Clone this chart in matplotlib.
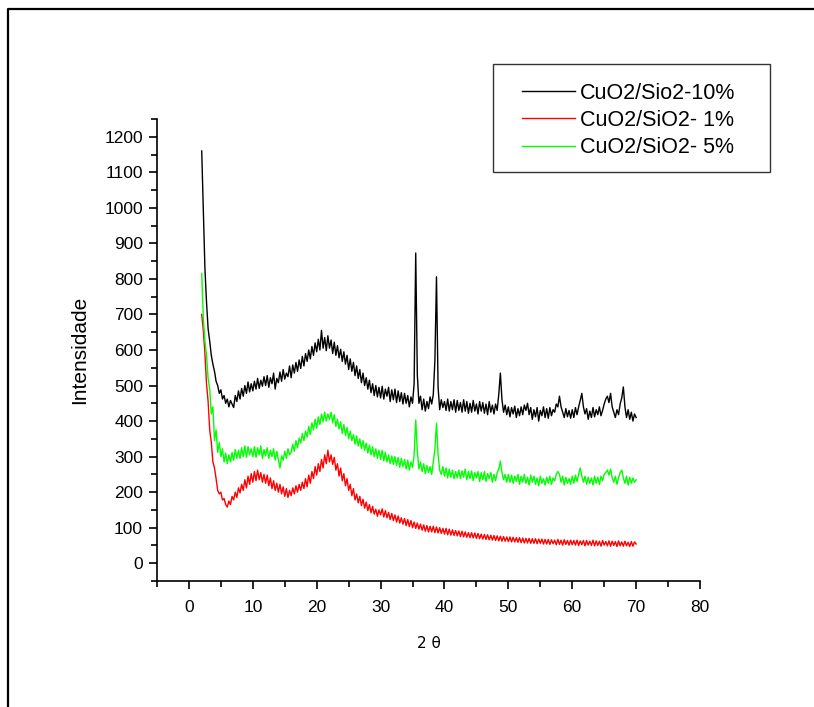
import numpy as np
import matplotlib.pyplot as plt
from matplotlib.lines import Line2D
from matplotlib.patches import Rectangle
from matplotlib.ticker import MultipleLocator

plt.rcParams['font.family'] = ['Liberation Sans', 'DejaVu Sans']

# 2-theta grid: 2.0 .. 70.0 in steps of 0.25 (rows of 8 values = 2 degrees)
two_theta = np.arange(2.0, 70.001, 0.25)

cuo_10 = [
    1160, 1000, 830, 735, 660, 625, 585, 560,
    540, 512, 500, 478, 488, 462, 472, 450,
    462, 440, 458, 448, 438, 472, 455, 485,
    462, 492, 470, 500, 478, 510, 482, 505,
    485, 512, 490, 520, 492, 515, 498, 525,
    500, 528, 495, 522, 505, 535, 490, 520,
    508, 538, 512, 545, 518, 535, 525, 555,
    522, 558, 535, 565, 540, 572, 548, 582,
    555, 590, 568, 600, 575, 610, 585, 620,
    595, 630, 600, 655, 605, 635, 598, 640,
    605, 628, 590, 622, 585, 612, 578, 602,
    568, 595, 560, 585, 545, 575, 540, 565,
    528, 555, 520, 545, 508, 535, 500, 522,
    490, 515, 480, 505, 472, 500, 468, 495,
    465, 498, 462, 490, 470, 495, 455, 488,
    460, 490, 452, 485, 455, 480, 448, 478,
    450, 472, 440, 468, 450, 505, 873, 530,
    450, 470, 432, 462, 428, 455, 435, 468,
    448, 475, 570, 806, 495, 432, 460, 438,
    455, 430, 462, 428, 455, 432, 460, 425,
    458, 430, 452, 425, 460, 428, 455, 422,
    450, 425, 458, 428, 448, 420, 455, 428,
    452, 422, 448, 418, 455, 425, 445, 420,
    448, 430, 475, 535, 460, 425, 445, 418,
    440, 412, 438, 420, 442, 410, 435, 415,
    440, 418, 445, 430, 450, 418, 438, 405,
    432, 412, 438, 400, 430, 415, 440, 410,
    435, 408, 438, 415, 432, 425, 448, 440,
    470, 440, 425, 410, 435, 412, 430, 408,
    432, 410, 438, 418, 440, 458, 478, 440,
    420, 435, 405, 428, 410, 438, 412, 432,
    418, 440, 415, 430, 448, 462, 470, 452,
    478, 440, 425, 410, 432, 418, 448, 465,
    496, 440, 410, 432, 405, 425, 400, 420,
    410,
]

cuo_1 = [
    700, 655, 590, 505, 455, 375, 340, 285,
    268, 238, 205, 195, 200, 178, 182, 165,
    158, 175, 165, 188, 178, 200, 185, 212,
    198, 222, 205, 235, 212, 245, 222, 252,
    228, 258, 232, 262, 235, 255, 228, 250,
    225, 248, 218, 240, 210, 232, 205, 225,
    200, 222, 195, 215, 188, 210, 185, 205,
    190, 212, 195, 218, 200, 222, 205, 228,
    210, 238, 215, 248, 225, 258, 238, 272,
    248, 280, 258, 292, 268, 305, 280, 318,
    285, 305, 278, 298, 262, 280, 245, 268,
    232, 252, 218, 238, 205, 222, 190, 210,
    178, 195, 170, 188, 162, 180, 155, 172,
    148, 165, 142, 160, 138, 152, 132, 150,
    136, 153, 130, 148, 128, 143, 123, 140,
    120, 136, 116, 133, 113, 128, 110, 126,
    106, 123, 103, 120, 100, 116, 98, 113,
    96, 110, 93, 108, 90, 106, 88, 104,
    88, 104, 86, 102, 85, 100, 84, 98,
    82, 98, 80, 96, 79, 94, 78, 92,
    77, 91, 75, 90, 74, 88, 73, 86,
    72, 86, 71, 85, 70, 84, 69, 82,
    68, 81, 67, 80, 66, 79, 65, 78,
    64, 77, 63, 76, 62, 75, 62, 74,
    61, 74, 60, 73, 60, 72, 59, 72,
    58, 71, 57, 70, 57, 70, 56, 69,
    56, 69, 55, 68, 56, 68, 54, 67,
    54, 67, 53, 66, 55, 65, 52, 67,
    53, 65, 51, 66, 53, 64, 51, 65,
    52, 64, 51, 65, 50, 63, 52, 64,
    49, 64, 51, 62, 50, 65, 49, 63,
    50, 62, 48, 64, 51, 61, 49, 63,
    48, 62, 50, 61, 47, 63, 49, 60,
    48, 62, 49, 59, 47, 61, 48, 60,
    54,
]

cuo_5 = [
    815, 690, 625, 585, 520, 490, 420, 440,
    345, 375, 312, 340, 300, 322, 285, 310,
    280, 305, 285, 312, 290, 320, 295, 318,
    295, 325, 300, 330, 298, 328, 305, 322,
    300, 328, 298, 325, 305, 330, 295, 320,
    302, 325, 295, 318, 300, 322, 290, 315,
    292, 268, 302, 290, 315, 295, 322, 305,
    312, 335, 315, 345, 325, 352, 338, 365,
    345, 372, 355, 385, 362, 395, 375, 405,
    380, 412, 390, 420, 398, 425, 400, 420,
    405, 425, 395, 418, 385, 405, 378, 398,
    365, 390, 360, 382, 350, 372, 345, 362,
    335, 358, 330, 350, 322, 345, 318, 338,
    310, 332, 305, 328, 300, 322, 295, 318,
    292, 318, 288, 312, 285, 305, 280, 302,
    278, 300, 275, 298, 270, 295, 272, 292,
    265, 290, 262, 285, 270, 305, 403, 315,
    265, 285, 258, 280, 252, 275, 255, 272,
    250, 285, 320, 394, 305, 262, 250, 272,
    245, 268, 240, 265, 242, 262, 238, 258,
    240, 262, 238, 260, 242, 265, 235, 258,
    238, 260, 232, 255, 240, 258, 230, 255,
    235, 258, 230, 252, 238, 255, 228, 250,
    232, 255, 265, 287, 255, 235, 250, 228,
    250, 228, 248, 225, 245, 230, 250, 222,
    245, 228, 250, 225, 242, 220, 248, 228,
    245, 222, 240, 218, 245, 225, 238, 220,
    242, 225, 245, 222, 240, 232, 250, 258,
    250, 228, 245, 220, 242, 225, 238, 222,
    245, 225, 248, 230, 250, 268, 245, 228,
    245, 222, 242, 225, 240, 220, 245, 225,
    242, 222, 245, 232, 250, 255, 262, 248,
    265, 240, 228, 245, 222, 240, 255, 262,
    240, 225, 245, 220, 242, 225, 240, 228,
    235,
]

labels = ["CuO2/Sio2-10%", "CuO2/SiO2- 1%", "CuO2/SiO2- 5%"]
colors = ["black", "#ff0000", "#00ff00"]

W, H = 814, 707
fig = plt.figure(figsize=(W / 100, H / 100), dpi=100)
ax = fig.add_axes([157 / W, 1 - 581 / H, (700 - 157) / W, (581 - 119) / H])

lines = []
for y, c in zip([cuo_10, cuo_1, cuo_5], colors):
    (ln,) = ax.plot(two_theta, y, color=c, lw=1.0)
    lines.append(ln)

ax.set_xlim(-5, 80)
ax.set_ylim(-50, 1250)
ax.xaxis.set_major_locator(MultipleLocator(10))
ax.xaxis.set_minor_locator(MultipleLocator(5))
ax.yaxis.set_major_locator(MultipleLocator(100))
ax.yaxis.set_minor_locator(MultipleLocator(50))
for side in ["top", "right"]:
    ax.spines[side].set_visible(False)
for side in ["left", "bottom"]:
    ax.spines[side].set_linewidth(1.2)
ax.tick_params(which="major", direction="out", length=6, width=1.2, labelsize=12.5)
ax.tick_params(axis="x", which="major", pad=8)
ax.tick_params(axis="y", which="major", pad=4)
ax.tick_params(which="minor", direction="out", length=4, width=1.2)

ax.set_ylabel("Intensidade", fontsize=15, labelpad=11)
ax.set_xlabel("2 θ", fontsize=11, labelpad=15, family=["Liberation Sans Narrow", "DejaVu Sans"])

# legend box drawn separately so it matches the wide frame
fig.add_artist(Rectangle((493 / W, 1 - 172 / H), 277 / W, 108 / H, transform=fig.transFigure,
                         fill=False, edgecolor="#333333", lw=1.0))
fig.legend(lines, labels, loc="upper left", bbox_to_anchor=(522 / W, 1 - 83 / H),
           frameon=False, fontsize=15.5, handlelength=2.45, handletextpad=0.25,
           labelspacing=0.28, borderpad=0, borderaxespad=0)

# outer frame (only top and left edges are visible)
fig.add_artist(Line2D([8 / W, 8 / W, 1], [0, 1 - 9 / H, 1 - 9 / H], transform=fig.transFigure,
                      color="black", lw=1.6))

fig.savefig("out.png", dpi=100)
